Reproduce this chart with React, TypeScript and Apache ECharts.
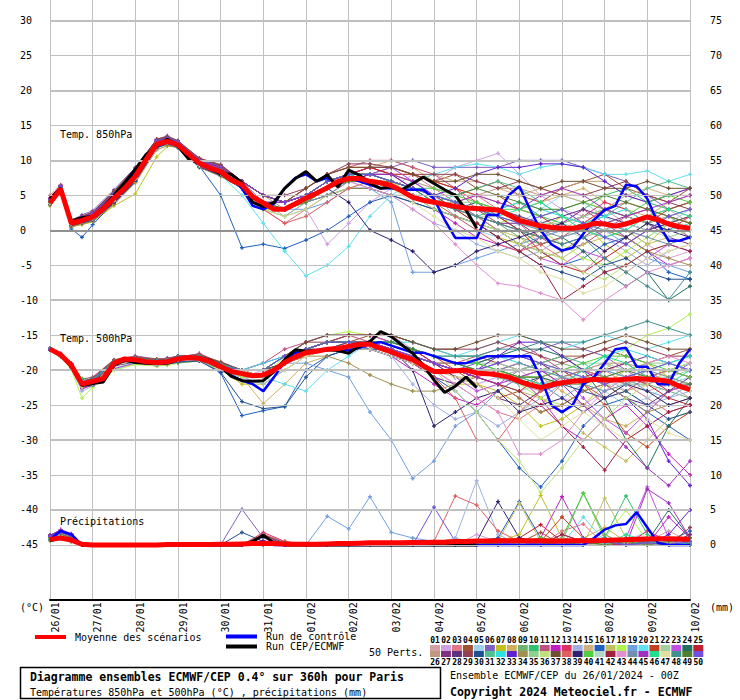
import React, { useEffect, useRef } from 'react';
import * as echarts from 'echarts';

const MONO = '"DejaVu Sans Mono", "Liberation Mono", monospace';

// time axis (hours since 26/01 00Z)
const memberHours = [0, 6, 12, 18, 24, 36, 48, 60, 66, 72, 84, 96, 108, 120, 132, 144, 156, 168, 180, 192, 204, 216, 228, 240, 252, 264, 276, 288, 300, 312, 324, 336, 348, 360];
const runHours = Array.from({ length: 61 }, (_, i) => i * 6);

const dateLabels = ['26/01', '27/01', '28/01', '29/01', '30/01', '31/01', '01/02', '02/02', '03/02', '04/02', '05/02', '06/02', '07/02', '08/02', '09/02', '10/02'];
const leftTicks = [-45, -40, -35, -30, -25, -20, -15, -10, -5, 0, 5, 10, 15, 20, 25, 30];
const rightTicks = [0, 5, 10, 15, 20, 25, 30, 35, 40, 45, 50, 55, 60, 65, 70, 75];
const thinGrid = [25, 15, 5, -5, -15, -25, -35, -45];
const thickGrid = [30, 20, 10, -10, -20, -30, -40];

const memberColors = [
  '#d4a0a8', '#d0a0e0', '#e07888', '#a05030', '#a0d0f0', '#8060c0', '#c0c020', '#d0b060', '#70b070', '#30c070',
  '#c05080', '#c020c0', '#e03060', '#a0b0e0', '#d0b080', '#2060c0', '#c0c060', '#b0f050', '#70a0e0', '#60e0f0',
  '#c04020', '#a0d0a0', '#c050e0', '#207060', '#c02030', '#c09880', '#803080', '#603080', '#904050', '#205090',
  '#50c090', '#30e0e0', '#6020d0', '#a09050', '#90d090', '#c0e080', '#705030', '#e06060', '#302070', '#50d040',
  '#b0d8c8', '#a02040', '#e090d0', '#7090b0', '#a030c0', '#20e090', '#e0e0a0', '#409090', '#508030', '#7050e0',
];

// ---- Temp 850 hPa (°C) ----
const t850Mean = [3.9, 5.9, 1.0, 1.4, 1.9, 3.1, 4.6, 6.0, 7.7, 10.1, 12.3, 12.7, 12.2, 10.9, 9.6, 8.9, 8.4, 7.2, 6.5, 4.8, 3.9, 3.0, 3.0, 3.8, 4.6, 5.3, 6.1, 7.0, 7.4, 7.4, 7.0, 6.8, 6.4, 5.6, 4.7, 4.3, 4.0, 3.7, 3.4, 3.2, 3.1, 3.0, 2.9, 2.2, 1.4, 1.0, 0.6, 0.4, 0.3, 0.3, 0.5, 1.0, 0.9, 0.6, 0.9, 1.4, 1.9, 1.5, 0.9, 0.5, 0.3];
const t850Control = [4.5, 6.0, 1.0, 1.5, 2.0, 3.2, 4.8, 6.6, 8.5, 10.6, 12.0, 12.8, 12.0, 10.3, 9.5, 8.8, 8.1, 7.5, 6.0, 3.5, 3.0, 3.8, 6.0, 7.5, 8.0, 7.0, 7.5, 6.5, 7.5, 7.0, 6.5, 6.0, 6.0, 5.8, 5.8, 5.8, 4.5, 1.5, -1.1, -1.1, -1.1, 2.2, 2.2, 5.0, 6.3, 3.0, 0.0, -2.0, -2.9, -2.5, -0.5, 1.5, 2.9, 3.5, 6.5, 6.3, 4.5, 1.0, -1.5, -1.5, -1.0];
const t850Main = [4.5, 6.0, 1.3, 1.8, 2.0, 3.3, 5.0, 6.8, 8.7, 10.8, 12.0, 13.0, 12.0, 10.2, 9.6, 8.8, 8.1, 8.0, 6.8, 4.0, 3.4, 4.0, 6.0, 7.4, 8.4, 7.0, 7.9, 6.2, 8.6, 7.9, 6.7, 6.0, 6.2, 5.8, 6.7, 7.6, 6.7, 5.8, 5.0, 2.9, 0.3];
const t850Members: number[][] = [
  [4.5, 6.2, 1.2, 1.5, 2.2, 5, 8.2, 12.5, 13, 12.3, 9.8, 8.5, 6, 4, 3, 5, 7, 8, 8, 7, 6, 5, 3, 2, 1, 0, -1, 0, 2, 3, 1, 2, 3, 1],
  [4, 6, 0.8, 1.8, 2.5, 5.2, 8.5, 12.8, 13.2, 12.5, 10, 9, 7, 4, 2, 3, -2, 1, 4, 6, 8, 7, 9, 10, 11, 8, 5, 3, 2, 1, 0, -2, -4, -3],
  [5, 6.5, 1.5, 1.2, 2, 4.5, 7.5, 12, 12.8, 12, 9.5, 8, 6, 3, 1, 3, 5, 7, 8, 9, 8, 6, 4, 5, 3, 1, -2, -4, -6, -3, -1, 1, 2, 1],
  [3.8, 5.8, 0.5, 1, 1.5, 4, 7.2, 12, 12.5, 12.2, 9.2, 8.2, 6, 4, 4, 5, 7, 8, 9, 9, 8, 7, 8, 6, 7, 5, 4, 6, 7, 8, 6, 5, 4, 6],
  [4.2, 6, 1, 1.3, 1.8, 4.3, 7.8, 12.2, 12.8, 12.4, 9.6, 8.6, 7, 5, 3, 4, 6, 8, 9, 9, 7, 5, 2, 0, -1, 1, 3, 5, 4, 2, 0, -1, 1, 3],
  [4.5, 6.3, 1.4, 2.2, 2.8, 5.8, 9, 13, 13.5, 12.8, 10.2, 9.2, 7, 5, 4, 5, 6, 7, 8, 9, 10, 9, 9, 9, 9, 10, 10, 10, 9, 8, 7, 5, 3, 4],
  [3.5, 5.6, 0.5, 0.8, 1.2, 3.5, 5.2, 10.5, 12, 12, 9.4, 8, 6, 3, 2, 4, 6, 7, 7, 6, 5, 3, 2, 1, -1, -2, 0, 2, 1, -2, -4, -2, 1, 2],
  [4.3, 6.1, 1.1, 1.5, 2, 4.8, 8, 12.4, 13, 12.5, 9.9, 8.8, 7, 5, 3, 4, 6, 8, 9, 10, 9, 7, 6, 5, 4, 3, 4, 5, 6, 4, 3, 2, 4, 5],
  [3.9, 5.9, 0.9, 1.2, 1.6, 4.2, 7.4, 12, 12.6, 12, 9.3, 8.1, 6, 4, 3, 4, 6, 7, 7, 6, 5, 4, 4, 3, 1, -1, -2, -1, 1, 0, -1, 1, 2, 0],
  [4.1, 6, 1.2, 1.6, 2.3, 5, 8.2, 12.5, 12.9, 12.3, 9.7, 8.5, 6, 4, 3, 5, 7, 8, 7, 6, 5, 5, 4, 2, 3, 4, 2, 1, 3, 5, 6, 4, 3, 4],
  [4.4, 6.2, 1.3, 1.7, 2.4, 5.3, 8.6, 12.7, 13.2, 12.6, 10.1, 9.1, 7, 5, 4, 6, 8, 9, 10, 10, 9, 8, 6, 3, 1, 0, -1, -3, -2, 0, 2, 3, 1, -1],
  [3.7, 5.7, 0.6, 1, 1.4, 3.9, 7, 11.8, 12.4, 12, 9.2, 7.8, 6, 4, 3, 5, 7, 8, 8, 7, 5, 3, 1, -1, -2, -3, -1, 1, 3, 1, -1, -3, -5, -4],
  [4.6, 6.4, 1.5, 2, 2.6, 5.5, 8.8, 13, 13.4, 12.7, 10.3, 9.3, 7, 5, 4, 5, 6, 8, 9, 8, 8, 7, 6, 4, 3, 2, 0, 1, 2, 4, 3, 1, 0, 2],
  [4, 5.9, 0.8, 1.2, 1.7, 4.4, 7.5, 12.1, 12.7, 12.1, 9.4, 8.2, 6, 3, 2, 4, 6, 7, 6, 5, 3, 1, 0, -2, -3, -4, -3, -1, 0, -1, -3, -5, -3, -2],
  [4.3, 6.1, 1.1, 1.6, 2.1, 4.9, 8.1, 12.4, 12.9, 12.4, 9.9, 8.9, 7, 5, 4, 5, 7, 8, 8, 8, 7, 8, 7, 7, 6, 5, 6, 5, 4, 3, 5, 6, 5, 6],
  [4, 6, 0.2, -1, 0.8, 4, 7, 12, 12.5, 12, 9.2, 5, -2.5, -2, -2.6, -1.4, 0, 2, 4, 5, 4, 3, 2, 1, 0, -2, -3, -5, -4, -2, -1, -3, -6, -7],
  [3.9, 5.8, 0.9, 1.3, 1.8, 4.4, 7.6, 12.2, 12.7, 12.1, 9.5, 8.3, 6, 4, 3, 4, 6, 7, 7, 7, 6, 4, 3, 1, 0, -1, -3, -4, -2, -1, 0, -2, -1, 0],
  [4.2, 6, 1, 1.4, 1.9, 4.7, 7.8, 12.3, 12.8, 12.3, 9.6, 8.4, 6, 3, 3, 5, 7, 8, 8, 7, 6, 4, 3, 2, 1, 2, 0, -2, -4, -5, -3, -1, 1, 2],
  [4.4, 6.2, 1.3, 1.8, 2.3, 5.1, 8.3, 12.6, 13.1, 12.5, 10, 8.7, 7, 4, 3, 3, 4, 6, 6, 4, -6, -6, -5, -4, -3, -2, -1, 0, 1, 0, -2, -4, -5, -6],
  [3.8, 5.7, 0.7, 1.1, 1.5, 4.1, 7.3, 11.9, 12.4, 11.9, 9.1, 7.9, 5, 1, -3, -6.5, -5, -2.3, 2, 5, 7, 8, 9, 9.5, 9, 8, 9, 9.5, 9, 8, 8, 8.5, 7, 8],
  [4.5, 6.3, 1.4, 1.9, 2.5, 5.4, 8.7, 12.9, 13.3, 12.6, 10.2, 9.2, 7, 5, 4, 6, 8, 9, 9, 8, 8, 7, 6, 5, 5, 3, 2, 0, 1, 3, 2, 1, 3, 4],
  [4.1, 6, 1, 1.4, 1.9, 4.6, 7.7, 12.3, 12.7, 12.2, 9.6, 8.4, 6, 4, 3, 5, 7, 8, 8, 7, 5, 4, 3, 3, 3, 2, 1, 1, 0, 0, 1, 2, 1, 0],
  [4.2, 6.1, 1.1, 1.5, 2, 4.8, 7.9, 12.4, 12.9, 12.3, 9.8, 8.6, 6, 4, 3, 4, 6, 8, 9, 9, 7, 5, 4, 2, 0, -2, -4, -5, -3, -4, -6, -4, -2, -3],
  [3.8, 5.8, 0.8, 1.2, 1.7, 4.3, 7.4, 12, 12.5, 12, 9.3, 8.1, 6, 4, 3, 4, 6, 7, 8, 7, 6, 4, 3, 4, 2, 0, -2, -1, -3, -6, -8, -6, -10, -8],
  [4.4, 6.2, 1.2, 1.7, 2.2, 5, 8.2, 12.6, 13, 12.4, 9.9, 8.8, 7, 5, 4, 5, 7, 8, 9, 8, 6, 5, 4, 3, 2, 0, -3, -5, -6, -4, -2, 0, 1, 0],
  [4, 5.9, 0.9, 1.3, 1.8, 4.5, 7.6, 12.2, 12.6, 12.1, 9.5, 8.3, 6, 4, 3, 5, 7, 8, 8, 8, 7, 6, 5, 5, 6, 6, 5, 6, 7, 7, 5, 4, 5, 5],
  [3.9, 5.8, 0.8, 1.3, 1.7, 4.2, 7.3, 12, 12.5, 12, 9.3, 8, 6, 4, 3, 4, 6, 7, 7, 6, 5, 4, 3, 2, 1, 1, -1, -2, -1, 1, 2, 1, -1, -2],
  [4.3, 6.1, 1.2, 1.6, 2.1, 4.9, 8, 12.4, 12.9, 12.4, 9.8, 8.6, 6, 4, 4, 5, 7, 8, 8, 7, 6, 5, 4, 3, 3, 2, 1, 2, 3, 2, 1, 0, 1, 2],
  [4.6, 6.4, 1.5, 2, 2.6, 5.6, 8.9, 13, 13.4, 12.8, 10.3, 9.4, 7, 5, 5, 6, 8, 9.5, 9.5, 9, 8, 8, 8, 7, 6, 7, 6, 5, 5, 6, 7, 5, 4, 3],
  [3.7, 5.7, 0.6, 1, 1.3, 3.8, 7, 11.8, 12.3, 11.8, 9, 7.8, 6, 4, 3, 4, 5, 6, 6, 5, 4, 3, 2, 1, -1, -3, -5, -6, -7, -5, -4, -6, -7, -7],
  [4.1, 6, 1, 1.5, 2, 4.6, 7.7, 12.3, 12.8, 12.2, 9.6, 8.4, 6, 4, 3, 5, 7, 8, 7, 6, 5, 4, 5, 6, 7, 6, 4, 2, 1, 2, 4, 6, 7, 6],
  [4, 5.9, 0.9, 1.3, 1.8, 4.4, 7.5, 12.1, 12.6, 12.1, 9.4, 8.2, 6, 4, 3, 4, 6, 7, 7, 6, 6, 5, 4, 3, 3, 4, 3, 2, 1, 2, 3, 1, 0, 1],
  [4.5, 6.3, 1.3, 1.8, 2.4, 5.3, 8.5, 12.8, 13.2, 12.6, 10.1, 9, 7, 5, 4, 5, 7, 8, 8, 8, 6, 5, 6, 8, 9, 9, 9.5, 9.5, 9, 7, 5, 4, 5, 6],
  [3.6, 5.6, 0.5, 0.9, 1.3, 3.7, 6.8, 11.5, 12.1, 11.8, 9, 7.7, 6, 4, 3, 4, 5, 6, 6, 5, 5, 4, 3, 2, 0, -2, -4, -3, -1, 0, -1, -3, -4, -5],
  [4.2, 6, 1.1, 1.5, 2, 4.7, 7.8, 12.3, 12.8, 12.3, 9.7, 8.5, 6, 4, 3, 5, 7, 8, 8, 7, 6, 5, 4, 4, 3, 1, 0, 1, 2, 3, 2, 1, 2, 3],
  [3.9, 5.8, 0.8, 1.2, 1.6, 4.2, 7.3, 12, 12.5, 12, 9.3, 8, 6, 3, 2, 3, 5, 6, 7, 7, 5, 3, 2, 1, 0, -2, -3, -4, -6, -7, -5, -3, -2, -1],
  [4.5, 6.3, 1.4, 1.9, 2.5, 5.5, 8.7, 12.9, 13.3, 12.7, 10.2, 9.2, 7, 5, 4, 6, 8, 9, 9, 9, 8, 7, 7, 8, 8, 7, 6, 7, 7, 6, 6, 7, 6, 6],
  [4.1, 6, 1, 1.4, 1.9, 4.8, 8.1, 12.3, 12.8, 12.2, 9.7, 8.3, 6, 3, 1, 2, 4, 6, 7, 6, 5, 4, 2, 0, -2, -3, -2, -1, 1, 3, 4, 3, 2, 1],
  [3.8, 5.7, 0.7, 1.1, 1.5, 4, 7.2, 11.9, 12.4, 11.9, 9.1, 7.9, 6, 4, 3, 4, 6, 4, 0, -1.4, -3, -6, -5, -3, -2, -1, 0, 1, -1, -3, -1, 1, 0, -1],
  [4.3, 6.1, 1.2, 1.6, 2.2, 5, 8.1, 12.5, 12.9, 12.4, 9.8, 8.6, 6, 4, 3, 5, 7, 8, 8, 7, 6, 6, 5, 4, 3, 3, 2, 3, 4, 3, 2, 4, 5, 4],
  [4, 5.9, 0.9, 1.4, 1.9, 4.5, 7.6, 12.2, 12.7, 12.1, 9.5, 8.3, 6, 4, 3, 4, 6, 7, 7, 6, 5, 4, 3, 2, 2, 1, 1, 0, -1, 0, 1, 0, -1, 0],
  [4.4, 6.2, 1.3, 1.8, 2.3, 5.2, 8.4, 12.7, 13.1, 12.5, 10, 9, 7, 5, 4, 5, 7, 8, 8, 7, 6, 5, 3, 1, -1, -3, -5, -10, -8, -6, -5, -3, -2, -3],
  [4.1, 6, 1, 1.4, 1.8, 4.5, 7.6, 12.2, 12.7, 12.1, 9.5, 8.2, 6, 4, 3, 4, 6, 7, 6, 5, 3, 1, -2, -5, -7.6, -8, -9, -10, -12.8, -10, -8, -6, -5, -4],
  [3.8, 5.8, 0.8, 1.2, 1.6, 4.2, 7.3, 12, 12.4, 11.9, 9.2, 8, 6, 4, 3, 4, 5, 7, 7, 6, 5, 4, 3, 3, 2, 1, 0, -1, 0, 1, 0, -1, -2, -1],
  [4.4, 6.2, 1.3, 1.7, 2.3, 5.1, 8.3, 12.6, 13, 12.5, 10, 8.8, 6, 4, 4, 5, 6, 7, 8, 8, 7, 5, 4, 5, 4, 3, 5, 6, 5, 3, 2, 3, 4, 5],
  [4.2, 6, 1.1, 1.5, 2, 4.7, 7.8, 12.3, 12.8, 12.2, 9.6, 8.4, 6, 4, 3, 4, 6, 8, 8, 7, 6, 5, 4, 3, 2, 3, 4, 2, 0, -1, 0, 2, 3, 2],
  [3.9, 5.8, 0.9, 1.3, 1.7, 4.3, 7.4, 12.1, 12.6, 12, 9.3, 8.1, 6, 4, 3, 4, 6, 7, 7, 6, 4, 2, 0, -1, -3, -4, -6, -7, -9, -8, -6, -4, -3, -2],
  [4.3, 6.1, 1.2, 1.6, 2.1, 5, 8.1, 12.5, 12.9, 12.4, 9.8, 8.6, 6, 4, 3, 5, 7, 8, 8, 7, 6, 4, 3, 2, 1, 0, -1, -2, -1, -4, -6, -8, -9.9, -6],
  [4, 5.9, 1, 1.4, 1.8, 4.5, 7.6, 12.2, 12.7, 12.1, 9.5, 8.3, 6, 4, 3, 4, 6, 7, 7, 7, 6, 5, 5, 6, 5, 4, 3, 3, 4, 5, 4, 3, 2, 1],
  [4.5, 6.3, 1.4, 1.9, 2.4, 5.3, 8.5, 12.8, 13.2, 12.7, 10.1, 9.1, 7, 5, 4, 5, 7, 8, 8, 7, 6, 5, 4, 3, 2, 1, 2, 3, 1, -1, -2, 0, 2, 3],
];

// ---- Temp 500 hPa (°C) ----
const t500Mean = [-17.0, -17.8, -19.3, -22.0, -21.6, -21.2, -19.0, -18.4, -18.5, -18.8, -18.9, -18.8, -18.4, -18.2, -18.3, -18.8, -19.5, -20.2, -20.5, -20.8, -20.7, -20.0, -18.9, -18.1, -17.5, -17.3, -17.0, -16.9, -16.6, -16.3, -16.3, -16.9, -17.4, -18.0, -18.5, -19.4, -20.2, -20.2, -20.1, -20.0, -20.4, -20.5, -20.7, -21.0, -21.6, -22.1, -22.5, -22.1, -21.8, -21.6, -21.5, -21.3, -21.4, -21.4, -21.3, -21.2, -21.3, -21.4, -21.6, -22.3, -22.8];
const t500Control = [-17.0, -17.8, -19.4, -22.0, -21.8, -21.4, -19.2, -18.5, -18.8, -19.0, -19.0, -18.9, -18.5, -18.2, -18.3, -18.7, -19.5, -20.8, -21.5, -22.0, -23.0, -21.0, -18.8, -17.5, -17.4, -17.2, -17.0, -17.0, -17.2, -16.8, -16.2, -16.0, -16.5, -17.0, -17.5, -17.5, -18.0, -18.5, -19.0, -19.0, -18.5, -18.0, -18.0, -18.0, -18.0, -18.0, -21.0, -25.0, -26.0, -25.0, -22.0, -21.0, -19.0, -17.0, -16.8, -19.5, -19.5, -22.0, -22.0, -19.0, -17.0];
const t500Main = [-17.0, -17.8, -19.5, -22.2, -21.9, -21.7, -19.3, -18.6, -18.9, -19.0, -19.0, -19.0, -18.5, -18.2, -18.2, -18.6, -19.5, -20.9, -21.5, -21.6, -21.5, -20.2, -18.5, -17.1, -17.3, -17.2, -17.1, -17.2, -17.6, -16.6, -15.9, -14.5, -15.2, -16.4, -17.6, -19.3, -21.4, -23.2, -22.3, -21.0, -22.5];
const t500Members: number[][] = [
  [-17, -17.9, -19.2, -22, -21.3, -18.8, -18.2, -18.8, -18.7, -18.2, -18.1, -19.2, -20, -21, -19, -18, -17, -16, -16, -17, -18, -19, -20, -20, -21, -22, -23, -22, -20, -19, -21, -23, -22, -24],
  [-17.1, -18, -19.5, -22.8, -22, -19.3, -18.4, -19, -19, -18.5, -18.4, -19.8, -21, -20, -18, -17, -16, -15, -15, -15, -17, -19, -21, -22, -21, -20, -22, -24, -25, -23, -21, -20, -22, -21],
  [-16.9, -17.7, -19.6, -22.3, -21.9, -19.2, -18.7, -19.1, -18.9, -18.4, -18.2, -19.4, -20, -20, -19, -17, -17, -16, -16, -17, -18, -20, -22, -24, -26, -27, -25, -22, -21, -20, -22, -24, -26, -25],
  [-17, -17.8, -19, -21.3, -21, -18.5, -18, -18.4, -18.3, -18, -17.8, -18.8, -20, -20, -18, -17, -16, -16, -15, -15, -16, -17, -18, -18, -19, -20, -19, -18, -18, -17, -18, -19, -18, -17],
  [-17.2, -18.1, -19.4, -22.4, -22.2, -19.7, -18.9, -19.3, -19.2, -18.8, -18.6, -20, -21, -21, -19, -18, -17, -17, -17, -18, -19, -20, -20, -21, -22, -23, -22, -21, -22, -23, -25, -24, -22, -21],
  [-16.9, -17.7, -19.1, -21.7, -21.2, -18.7, -18.1, -18.6, -18.4, -18, -17.9, -19, -20, -20, -18, -17, -16, -16, -16, -16, -17, -19, -20, -19, -18, -18, -17, -16, -17, -18, -20, -22, -21, -19],
  [-17, -17.9, -19.4, -22.5, -22.3, -19.4, -18.8, -19.2, -19.1, -18.7, -18.5, -19.9, -22, -22, -20, -18, -17, -17, -17, -18, -19, -21, -22, -22, -23, -25, -28, -27, -25, -22, -20, -19, -21, -22],
  [-17, -17.8, -19.3, -22, -21.6, -19, -18.5, -18.9, -18.8, -18.4, -18.3, -19.5, -21, -24.8, -22, -19, -18, -17, -16, -16, -17, -18, -19, -19, -20, -21, -21, -23, -25, -27, -28, -26, -23, -22],
  [-17, -17.8, -19.2, -21.8, -21.4, -18.9, -18.4, -18.8, -18.7, -18.3, -18.2, -19.3, -20, -21, -19, -18, -17, -16, -16, -16, -17, -18, -19, -20, -20, -21, -20, -19, -20, -21, -22, -22, -23, -24],
  [-17, -17.8, -19.2, -21.2, -21.5, -18.9, -18.3, -18.8, -18.5, -18.2, -18, -19.2, -20, -20, -18, -17, -16, -16, -17, -17, -18, -19, -19, -20, -21, -22, -22, -21, -20, -20, -21, -20, -19, -18],
  [-17, -17.8, -19.3, -22.1, -21.7, -19, -18.5, -18.9, -18.9, -18.3, -17.6, -19, -20, -19, -17, -16, -15, -15, -16, -17, -18, -19, -19, -18, -17, -16, -18, -20, -22, -24, -23, -21, -20, -21],
  [-17.1, -18, -19.6, -22.6, -22.2, -19.8, -19, -19.4, -19.2, -18.9, -18.7, -20.1, -21, -21, -19, -18, -17, -17, -17, -18, -20, -22, -24, -25, -23, -21, -24, -28, -30, -27, -25, -28, -32, -35],
  [-17, -17.7, -19.1, -21.9, -21.4, -18.8, -18.3, -18.7, -18.5, -18.1, -18, -19.1, -20, -20, -18, -17, -16, -16, -16, -17, -18, -19, -20, -21, -20, -19, -20, -22, -21, -20, -19, -21, -23, -22],
  [-17.1, -18.1, -19.8, -23, -22.3, -19.9, -19.1, -19.3, -19.3, -19, -18.6, -20.2, -21, -22, -20, -18, -17, -17, -17, -18, -22, -25, -27, -26, -28, -26, -24, -22, -20, -21, -23, -25, -24, -23],
  [-17, -17.8, -19.3, -22, -21.6, -19.1, -18.5, -18.9, -18.8, -18.4, -18.3, -19.4, -20, -20, -19, -17, -16, -16, -16, -16, -17, -18, -19, -20, -21, -21, -20, -20, -21, -22, -23, -22, -20, -19],
  [-17, -17.9, -19.4, -22.3, -22, -19.2, -18.7, -19.1, -19, -18.8, -18.6, -20.4, -26.5, -25.8, -25.2, -20, -18, -17, -17, -18, -19, -21, -23, -26, -30, -34, -36.7, -33, -28, -25, -24, -26, -28, -30],
  [-17, -17.8, -19.3, -22.1, -21.6, -19, -18.5, -18.9, -18.8, -18.4, -18.3, -19.5, -20, -20, -18, -17, -16, -16, -16, -17, -18, -20, -21, -21, -22, -23, -24, -26, -29, -31, -33, -30, -27, -26],
  [-17.1, -18.1, -19.9, -24, -22.5, -20, -19.2, -19.4, -19.3, -19, -18.7, -20, -21, -21, -18, -16, -15, -14.5, -15, -16, -17, -18, -19, -20, -20, -22, -24, -25, -23, -20, -17, -15, -14, -12],
  [-17, -17.8, -19.3, -22, -21.6, -19, -18.4, -18.9, -18.8, -18.4, -18.2, -19.4, -20, -20, -19, -19, -20, -21, -26, -30, -35.5, -33, -28, -26, -23, -21, -22, -24, -22, -20, -21, -23, -24, -22],
  [-17, -17.8, -19.3, -22, -21.6, -19, -18.5, -18.9, -18.8, -18.4, -18.3, -19.5, -20, -21, -22, -23, -20, -18, -16, -16, -17, -18, -18, -17, -16, -15, -16, -17, -16, -15, -16, -17, -16, -15],
  [-16.9, -17.7, -19.2, -21.9, -21.5, -18.9, -18.4, -18.8, -18.7, -18.3, -18.2, -19.3, -20, -20, -18, -17, -16, -15, -15, -16, -17, -18, -20, -22, -24, -23, -21, -20, -22, -25, -29, -31, -28, -26],
  [-17, -17.8, -19.3, -22, -21.7, -19.1, -18.5, -18.9, -18.8, -18.4, -18.3, -19.5, -20, -20, -19, -17, -16, -16, -16, -16, -17, -18, -18, -19, -19, -20, -20, -20, -19, -19, -20, -21, -21, -20],
  [-16.9, -17.6, -19, -21.6, -21.1, -18.6, -18, -18.5, -18.3, -18, -17.8, -18.9, -20, -19, -18, -16, -15, -15, -15, -16, -17, -19, -21, -23, -22, -20, -19, -21, -24, -27, -29, -26, -23, -22],
  [-17, -17.8, -19.4, -22.2, -21.7, -19.1, -18.6, -19, -18.9, -18.5, -18.4, -19.6, -20, -20, -18, -17, -16, -16, -16, -16, -17, -18, -19, -19, -18, -17, -17, -18, -20, -24, -30, -34, -28, -24],
  [-17.1, -17.9, -19.5, -22.4, -21.9, -19.3, -18.7, -19.1, -19, -18.6, -18.5, -19.8, -20, -20, -18, -17, -16, -16, -16, -16, -17, -19, -20, -21, -22, -24, -26, -25, -23, -22, -21, -22, -24, -25],
  [-17, -17.7, -19.2, -21.8, -21.4, -18.8, -18.3, -18.7, -18.6, -18.2, -18.1, -19.3, -20, -20, -19, -17, -16, -16, -16, -17, -18, -19, -19, -20, -21, -21, -22, -21, -20, -19, -19, -20, -22, -23],
  [-17, -17.8, -19.3, -22.1, -21.6, -19, -18.5, -18.9, -18.8, -18.4, -18.3, -19.5, -20, -20, -19, -17, -17, -16, -16, -16, -17, -18, -19, -20, -19, -18, -19, -21, -22, -20, -19, -18, -19, -20],
  [-17.1, -17.9, -19.4, -22.2, -21.8, -19.2, -18.6, -19, -18.9, -18.6, -18.5, -19.7, -20, -20, -18, -17, -16, -16, -16, -17, -18, -19, -21, -22, -24, -25, -23, -22, -21, -22, -24, -25, -23, -21],
  [-16.9, -17.7, -19.1, -21.8, -21.3, -18.7, -18.2, -18.6, -18.5, -18.1, -17.9, -19, -20, -20, -18, -16, -16, -15, -15, -15, -16, -17, -17, -17, -16, -17, -18, -19, -18, -17, -16, -17, -18, -18],
  [-17, -17.9, -19.5, -22.4, -22.1, -19.4, -18.8, -19.2, -19.1, -18.9, -18.7, -20.3, -24.5, -25.5, -25.2, -21, -18, -17, -17, -17, -18, -19, -20, -20, -21, -22, -21, -22, -23, -24, -23, -25, -27, -26],
  [-17, -17.8, -19.2, -21.9, -21.5, -18.9, -18.4, -18.8, -18.7, -18.3, -18.2, -19.4, -20, -20, -18, -17, -16, -16, -16, -16, -17, -18, -19, -19, -20, -20, -19, -18, -19, -21, -22, -21, -20, -19],
  [-16.9, -17.7, -19.2, -21.9, -21.5, -18.9, -18.4, -18.8, -18.7, -18.3, -18.1, -19.2, -20, -19, -18, -17, -16, -16, -16, -16, -16, -17, -18, -18, -18, -19, -20, -21, -20, -18, -17, -18, -19, -18],
  [-17, -17.8, -19.3, -22.1, -21.7, -19.1, -18.5, -18.9, -18.8, -18.4, -18.3, -19.5, -20, -20, -19, -17, -16, -16, -17, -18, -19, -21, -22, -20, -18, -16, -16, -18, -20, -22, -24, -27, -33, -36.5],
  [-17.1, -18, -19.5, -22.3, -21.9, -19.3, -18.7, -19.1, -19, -18.6, -18.5, -19.8, -20, -21, -19, -18, -18, -19, -20.7, -22, -23, -23, -22, -21, -22, -24, -26, -25, -23, -22, -24, -26, -25, -24],
  [-17, -17.8, -19.3, -22, -21.6, -19, -18.5, -18.9, -18.8, -18.4, -18.3, -19.5, -20, -20, -18, -17, -16, -16, -16, -16, -17, -18, -19, -20, -21, -20, -19, -20, -21, -21, -20, -19, -19, -20],
  [-17, -17.9, -19.4, -22.3, -21.9, -19.2, -18.6, -19, -18.9, -18.5, -18.4, -19.6, -20, -20, -18, -17, -16, -16, -16, -17, -18, -20, -23, -26, -30, -33, -37.5, -34, -30, -27, -24, -22, -20, -19],
  [-16.9, -17.7, -19.1, -21.7, -21.2, -18.6, -18.1, -18.5, -18.4, -18, -17.8, -18.9, -20, -20, -18, -16, -15, -15, -15, -15, -16, -17, -17, -16, -15, -15, -16, -17, -17, -16, -15, -16, -17, -17],
  [-17, -17.8, -19.3, -22, -21.6, -19, -18.5, -18.9, -18.8, -18.4, -18.3, -19.5, -20, -20, -18, -17, -16, -16, -16, -17, -19, -21, -24, -30, -30, -26, -23, -21, -20, -21, -22, -21, -20, -21],
  [-17.1, -17.9, -19.4, -22.2, -21.8, -19.2, -18.6, -19, -18.9, -18.6, -18.5, -19.7, -20, -21, -19, -17, -16, -16, -16, -17, -20, -28, -26, -24, -23, -26, -25, -24, -26, -24, -22, -23, -25, -24],
  [-17, -17.7, -19.2, -21.8, -21.4, -18.8, -18.3, -18.7, -18.6, -18.2, -18.1, -19.3, -20, -20, -18, -17, -16, -16, -16, -16, -17, -18, -19, -19, -20, -21, -21, -20, -19, -18, -18, -19, -20, -21],
  [-17, -17.8, -19.3, -22.1, -21.6, -19, -18.5, -18.9, -18.8, -18.4, -18.3, -19.5, -20, -20, -18, -17, -16, -16, -16, -17, -18, -19, -20, -20, -21, -22, -22, -21, -21, -22, -22, -21, -22, -23],
  [-17, -17.9, -19.4, -22.2, -21.8, -19.2, -18.6, -19, -18.9, -18.5, -18.4, -19.6, -20, -20, -18, -17, -16, -16, -16, -17, -18, -19, -20, -21, -22, -23, -25, -28, -31, -34.3, -30, -28, -26, -25],
  [-16.9, -17.7, -19.2, -21.9, -21.5, -18.9, -18.4, -18.8, -18.7, -18.3, -18.2, -19.4, -20, -20, -18, -17, -16, -16, -16, -17, -18, -20, -22, -24, -26, -32, -32, -30, -26, -23, -21, -19, -18, -19],
  [-17, -17.8, -19.3, -22, -21.6, -19, -18.5, -18.9, -18.8, -18.4, -18.3, -19.5, -20, -20, -18, -17, -16, -16, -16, -16, -17, -18, -19, -20, -20, -19, -20, -21, -22, -23, -22, -20, -21, -22],
  [-17.1, -18, -19.5, -22.3, -21.9, -19.3, -18.7, -19.1, -19, -18.6, -18.5, -19.8, -20, -20, -18, -17, -16, -16, -16, -17, -18, -19, -20, -21, -22, -21, -20, -22, -25, -28, -31, -34, -36.5, -33],
  [-17, -17.7, -19.2, -21.8, -21.4, -18.8, -18.3, -18.7, -18.6, -18.2, -18.1, -19.3, -20, -20, -18, -17, -16, -16, -16, -16, -17, -18, -19, -20, -20, -21, -22, -22, -20, -18, -19, -21, -22, -20],
  [-17, -17.9, -19.4, -22.4, -21.9, -19.3, -18.7, -19.1, -19, -18.6, -18.5, -19.7, -20, -21, -20, -18, -17, -17, -17, -18, -19, -20, -21, -22, -24, -27, -30, -28, -26, -28, -30, -27, -29, -30],
  [-16.9, -17.7, -19.1, -21.8, -21.3, -18.7, -18.2, -18.6, -18.5, -18.1, -17.9, -19.1, -20, -20, -18, -17, -16, -16, -16, -16, -17, -18, -18, -18, -17, -17, -16, -16, -16, -15, -14, -13, -14, -15],
  [-17, -17.8, -19.3, -22, -21.6, -19, -18.5, -18.9, -18.8, -18.4, -18.3, -19.5, -20, -20, -19, -17, -16, -16, -16, -16, -17, -18, -19, -20, -20, -21, -21, -22, -22, -21, -20, -21, -22, -22],
  [-17, -17.8, -19.2, -21.9, -21.5, -18.9, -18.4, -18.8, -18.7, -18.3, -18.2, -19.4, -20, -20, -18, -17, -16, -16, -16, -17, -18, -19, -20, -20, -19, -18, -19, -20, -21, -22, -21, -20, -19, -20],
];

// ---- Precipitations (mm) ----
const precipMean = [0.8, 1.0, 0.7, 0.1, 0, 0, 0, 0, 0, 0, 0, 0.05, 0.05, 0.05, 0.05, 0.05, 0.1, 0.1, 0.15, 0.2, 0.25, 0.2, 0.15, 0.1, 0.1, 0.1, 0.15, 0.2, 0.2, 0.25, 0.3, 0.3, 0.3, 0.3, 0.35, 0.35, 0.4, 0.4, 0.5, 0.5, 0.55, 0.55, 0.6, 0.6, 0.6, 0.6, 0.6, 0.55, 0.55, 0.6, 0.6, 0.6, 0.65, 0.7, 0.75, 0.8, 0.85, 0.9, 0.9, 0.85, 0.8];
const precipControl = [0.8, 2.0, 1.5, 0, 0, 0, 0, 0, 0, 0, 0, 0, 0, 0, 0, 0, 0, 0, 0, 0.3, 0.5, 0, 0, 0, 0, 0, 0, 0, 0, 0, 0, 0, 0, 0, 0, 0, 0, 0, 0, 0, 0, 0, 0, 0, 0, 0, 0, 0, 0, 0, 0, 1.0, 2.2, 2.8, 3.0, 4.7, 2.5, 0.3, 0, 0, 0];
const precipMain = [0.6, 1.0, 0.8, 0, 0, 0, 0, 0, 0, 0, 0, 0, 0, 0, 0, 0, 0, 0, 0, 0.5, 1.4, 0.3, 0, 0, 0, 0, 0, 0, 0, 0, 0, 0, 0, 0, 0, 0, 0, 0, 0, 0, 0];
const precipMembers: number[][] = [
  [1, 1.3, 0.8, 0, 0, 0, 0, 0, 0, 0, 0, 0, 0, 0.5, 0, 0, 0, 0, 0.3, 0, 0, 0.5, 0, 0, 0.3, 1, 0, 0.5, 0, 1.5, 0, 0.5, 2, 0.5],
  [0.8, 1.2, 0.6, 0, 0, 0, 0, 0, 0, 0, 0, 0, 0, 0.3, 0.5, 0, 0, 0, 0, 0, 0.5, 0, 0, 1.5, 0.5, 0, 0.3, 0, 1, 0.5, 0, 0, 0.5, 1],
  [1.2, 1.5, 1, 0, 0, 0, 0, 0, 0, 0, 0, 0, 0, 1.5, 0.3, 0, 0, 0, 0, 0.5, 0, 0, 0.3, 0, 1, 0.5, 0, 2, 3, 0, 1, 0.3, 0, 0.5],
  [0.6, 1, 0.5, 0, 0, 0, 0, 0, 0, 0, 0, 0, 0, 0, 0, 0, 0, 0, 0, 0, 0, 0.5, 0.8, 0, 0, 0.3, 1.8, 0, 0.5, 0, 1, 0.5, 0, 1.5],
  [0.9, 1.4, 0.7, 0, 0, 0, 0, 0, 0, 0, 0, 0, 0, 0.3, 0, 0, 0, 0, 0, 0, 0, 0, 1, 0.3, 0, 0, 0.5, 0, 0, 1, 0.5, 2, 0.3, 0],
  [1.1, 1.8, 1.2, 0, 0, 0, 0, 0, 0, 0, 0, 0, 5.1, 1, 0.3, 0, 0, 0, 0, 0, 0, 0, 0, 0.5, 0, 1, 0, 0.5, 1, 0, 0.5, 0, 1, 0.5],
  [0.7, 1.1, 0.6, 0, 0, 0, 0, 0, 0, 0, 0, 0, 0, 0, 0.5, 0, 0, 0, 0, 0, 0, 0.3, 0, 0, 0.5, 1.5, 7.1, 1, 0, 0, 0.5, 0, 0.3, 0],
  [1, 1.6, 0.9, 0, 0, 0, 0, 0, 0, 0, 0, 0, 0, 0.3, 0, 0, 0, 0, 0, 0, 0.5, 0.5, 0, 0, 0, 0.5, 0, 0, 1, 2.5, 0.5, 0, 0, 0.5],
  [0.8, 1.2, 0.7, 0, 0, 0, 0, 0, 0, 0, 0, 0, 0, 0, 0, 0, 0, 0, 0, 0, 0, 0, 0.3, 0.5, 0, 0, 0.5, 1, 7.4, 1.5, 0, 0.5, 1, 0],
  [1.3, 1.9, 1.3, 0, 0, 0, 0, 0, 0, 0, 0, 0, 0, 0.5, 0, 0, 0, 0, 0, 0, 0, 0, 0, 0, 0.5, 0, 1, 0, 0.5, 1, 7, 1.5, 0, 0.3],
  [0.9, 1.3, 0.9, 0, 0, 0, 0, 0, 0, 0, 0, 0, 0, 0.5, 0.3, 0, 0, 0, 0, 0, 0, 0, 0, 0.3, 1, 0.5, 0, 1.5, 0.5, 0, 0, 1, 0.5, 0],
  [1, 1.5, 1, 0, 0, 0, 0, 0, 0, 0, 0, 0, 0, 0, 0, 0, 0, 0, 0, 0.3, 0, 0, 0.5, 0, 0.3, 0, 1, 6.9, 1, 0, 0.3, 0, 4, 1],
  [1.4, 2, 1.5, 0, 0, 0, 0, 0, 0, 0, 0, 0, 0, 1.8, 0.5, 0, 0, 0, 0, 0, 0, 0.3, 0, 0, 0, 0.5, 0, 0.5, 0, 1, 0, 2, 0.5, 0.3],
  [0.7, 1, 0.5, 0, 0, 0, 0, 0, 0, 0, 0, 0, 0, 0, 0, 0, 0, 0, 0, 0, 0.3, 0, 1, 9.2, 1.5, 0, 0, 0.5, 0, 0, 0.5, 0, 0, 1],
  [0.8, 1.2, 0.7, 0, 0, 0, 0, 0, 0, 0, 0, 0, 0, 0, 0, 0, 0, 0, 0, 0, 0, 0, 0.5, 0.5, 0.3, 0, 0, 0, 1, 0.5, 0, 0.3, 0.5, 0],
  [1.2, 1.9, 1.4, 0, 0, 0, 0, 0, 0, 0, 0, 0, 0, 1.5, 0.3, 0, 0, 0, 0, 0, 0, 0, 0, 0.5, 1, 6.2, 1, 0, 0, 0.3, 0, 1, 0.5, 2],
  [0.9, 1.3, 0.8, 0, 0, 0, 0, 0, 0, 0, 0, 0, 0, 0, 0, 0, 0, 0, 0, 0, 0, 0, 0, 0, 0.5, 6, 0.5, 0, 0, 6.7, 1, 0, 0.5, 0],
  [0.6, 0.9, 0.4, 0, 0, 0, 0, 0, 0, 0, 0, 0, 0, 0, 0, 0, 0, 0, 0, 0, 0, 0.5, 0.3, 0, 0, 0.5, 0, 0, 0.5, 1, 5, 0.5, 0, 0.5],
  [1, 1.4, 0.8, 0, 0, 0, 0, 0, 0, 0, 0, 0, 0, 0, 0, 0, 4.1, 2.3, 6.9, 1.8, 1, 0.5, 0, 0, 0.3, 0, 0, 0.5, 0, 0, 0, 0.5, 0, 1],
  [0.8, 1.3, 0.8, 0, 0, 0, 0, 0, 0, 0, 0, 0, 0, 0.3, 0, 0, 0, 0, 0, 0, 0, 0, 0, 0.5, 0, 0.3, 0.5, 0, 4, 0.5, 0, 0, 1, 0.5],
  [1.1, 1.6, 1, 0, 0, 0, 0, 0, 0, 0, 0, 0, 0, 0.3, 0, 0, 0, 0, 0, 0, 0, 0, 0.5, 0, 0, 0, 0.5, 4, 1, 0, 0.5, 0.5, 0, 0],
  [0.7, 1.1, 0.6, 0, 0, 0, 0, 0, 0, 0, 0, 0, 0, 0, 0, 0, 0, 0, 0, 0, 0, 0, 0, 0.3, 0.5, 0, 0, 0.3, 0.5, 0, 0.3, 0, 0.5, 0.3],
  [1, 1.5, 0.9, 0, 0, 0, 0, 0, 0, 0, 0, 0, 0, 0, 0, 0, 0, 0, 0, 0, 0, 0, 0.3, 0, 0, 0.5, 0, 1, 0.5, 0, 1, 8.3, 1, 0],
  [0.9, 1.2, 0.7, 0, 0, 0, 0, 0, 0, 0, 0, 0, 0, 0.5, 0, 0, 0, 0, 0, 0, 0, 0.3, 0, 0, 0, 0, 0.5, 0, 1, 0.5, 0, 0.5, 5, 1],
  [1.2, 1.7, 1.1, 0, 0, 0, 0, 0, 0, 0, 0, 0, 0, 1.5, 0, 0, 0, 0, 0, 0, 0, 0, 0, 0, 0.5, 1, 2.9, 0.5, 0, 0, 0.5, 0, 0, 0.3],
  [0.8, 1.2, 0.6, 0, 0, 0, 0, 0, 0, 0, 0, 0, 0, 0, 0, 0, 0, 0, 0, 0, 0, 0.5, 0.5, 0.3, 0, 0, 0.3, 0, 0, 0.5, 0.3, 0, 0.5, 0],
  [1, 1.4, 0.9, 0, 0, 0, 0, 0, 0, 0, 0, 0, 0, 0.3, 0, 0, 0, 0, 0, 0, 0, 0, 0, 0, 0.5, 0, 0, 0.5, 0, 1, 0, 0.5, 0, 1.5],
  [0.7, 1, 0.6, 0, 0, 0, 0, 0, 0, 0, 0, 0, 0, 0, 0.3, 0, 0, 0, 0, 0, 0, 0, 0.5, 0, 0, 0.3, 0, 0, 0.5, 0, 0, 1, 0.5, 0],
  [1.1, 1.7, 1.2, 0, 0, 0, 0, 0, 0, 0, 0, 0, 0, 0.5, 0, 0, 0, 0, 0, 0, 0, 0, 0, 0.5, 0.3, 0, 0, 1, 0, 0, 0.5, 0, 0, 2.5],
  [1.3, 1.9, 1.3, 0, 0, 0, 0, 0, 0, 0, 0, 0, 1.8, 0.5, 0, 0, 0, 0, 0, 0, 0, 0, 0, 0, 0, 0.5, 0, 0, 0.5, 0, 1, 0.5, 0, 0],
  [0.8, 1.2, 0.7, 0, 0, 0, 0, 0, 0, 0, 0, 0, 0, 0, 0, 0, 0, 0, 0, 0, 0, 0.3, 0, 0.5, 0, 0, 1, 0.5, 0, 0.5, 0, 0, 1, 0.5],
  [0.9, 1.3, 0.8, 0, 0, 0, 0, 0, 0, 0, 0, 0, 0, 0, 0, 0, 0, 0, 0, 0, 0, 0, 0.3, 0, 0, 0.5, 0, 0.3, 0, 0, 0.5, 1, 0, 0],
  [1.2, 1.8, 1.2, 0, 0, 0, 0, 0, 0, 0, 0, 0, 0, 0.3, 0, 0, 0, 0, 0, 0, 0, 0, 0, 0.3, 0, 0, 0.5, 0, 0, 1, 0.5, 0, 1.5, 5],
  [0.7, 1, 0.5, 0, 0, 0, 0, 0, 0, 0, 0, 0, 0, 0, 0, 0, 0, 0, 0, 0, 0, 0, 0, 0, 0.3, 0.5, 0, 0, 0.5, 0, 0, 0.5, 0, 0.3],
  [0.9, 1.4, 0.8, 0, 0, 0, 0, 0, 0, 0, 0, 0, 0, 0, 0, 0, 0, 0, 0, 0, 0.3, 0, 0, 0.3, 0, 0, 0.5, 1, 0, 0.5, 0, 0, 0.5, 1],
  [1, 1.5, 1, 0, 0, 0, 0, 0, 0, 0, 0, 0, 0, 0.5, 0, 0, 0, 0, 0, 0, 0, 0, 0.5, 0, 0, 0.3, 0, 0, 1, 0, 0.5, 0, 0.3, 0],
  [0.8, 1.2, 0.6, 0, 0, 0, 0, 0, 0, 0, 0, 0, 0, 0, 0, 0, 0, 0, 0, 0, 0, 0, 0, 0.3, 0, 0, 0, 0.5, 0, 0.5, 0, 0.3, 0, 0.5],
  [1.1, 1.6, 1, 0, 0, 0, 0, 0, 0, 0, 0, 0, 0, 1.5, 0.5, 0, 0, 0, 0, 0, 0, 0.5, 7, 5.7, 2, 0.5, 0, 0, 0.5, 0, 0, 1, 0, 0],
  [1.4, 2.1, 1.5, 0, 0, 0, 0, 0, 0, 0, 0, 0, 0, 0.5, 0, 0, 0, 0, 0, 0, 0, 0, 0, 0.5, 6.2, 1, 0.5, 0, 0, 0.5, 0, 0, 1, 0.5],
  [0.9, 1.3, 0.8, 0, 0, 0, 0, 0, 0, 0, 0, 0, 0, 0, 0, 0, 0, 0, 0, 0, 0, 0, 0, 0, 0, 0.5, 1, 0.5, 7.4, 1, 0, 0.5, 0, 0],
  [0.8, 1.1, 0.6, 0, 0, 0, 0, 0, 0, 0, 0, 0, 0, 0, 0, 0, 0, 0, 0, 0, 0, 0, 0.3, 0, 0, 0, 0.5, 0, 0, 0.3, 0.5, 0, 0, 0.5],
  [1, 1.5, 0.9, 0, 0, 0, 0, 0, 0, 0, 0, 0, 0, 0.3, 0, 0, 0, 0, 0, 0, 0, 0, 0, 0, 0.5, 0, 0, 1.5, 0.5, 0, 0, 0.5, 1, 0.3],
  [1.2, 1.7, 1.1, 0, 0, 0, 0, 0, 0, 0, 0, 0, 0, 0.5, 0, 0, 0, 0, 0, 0, 0, 0, 0.5, 0, 0, 0.5, 0, 0, 0.5, 1, 0, 0, 0.5, 0],
  [0.7, 1, 0.6, 0, 0, 0, 0, 0, 0, 0, 0, 0, 0, 0, 0, 0, 0, 0, 0, 0, 0, 0.3, 0, 0, 0.5, 0, 0, 0.5, 0, 0, 1, 0.5, 0, 1],
  [1.3, 2.2, 1.6, 0, 0, 0, 0, 0, 0, 0, 0, 0, 0, 0.3, 0, 0, 0, 0, 0, 0, 0, 0, 0, 0.5, 0, 0, 0.5, 0, 0, 0.5, 0, 8, 6, 1],
  [0.9, 1.3, 0.7, 0, 0, 0, 0, 0, 0, 0, 0, 0, 0, 0, 0, 0, 0, 0, 0, 0, 0, 0, 0, 0.3, 0, 0.5, 0, 0, 0.5, 0, 1.5, 0.5, 0, 0.3],
  [1, 1.4, 0.9, 0, 0, 0, 0, 0, 0, 0, 0, 0, 0, 0, 0, 0, 0, 0, 0, 0, 0, 0.3, 0, 0, 0, 0.5, 0, 0.5, 0, 0, 0.5, 0, 1, 0.5],
  [0.8, 1.2, 0.7, 0, 0, 0, 0, 0, 0, 0, 0, 0, 0, 0, 0.3, 0, 0, 0, 0, 0, 0, 0, 0.5, 0, 0.3, 0, 0, 0.5, 0, 1, 0, 0.5, 0, 0],
  [1.1, 1.6, 1, 0, 0, 0, 0, 0, 0, 0, 0, 0, 0, 0.5, 0, 0, 0, 0, 0, 0, 0, 0, 0, 0.5, 0, 0, 0.3, 0, 0.5, 0, 0.5, 0, 0.5, 1],
  [1.2, 1.8, 1.3, 0, 0, 0, 0, 0, 0, 0, 0, 0, 0, 0.3, 0, 0, 0, 0, 0, 0, 0, 5.4, 0.5, 0, 0, 0.5, 0, 0, 1, 0.5, 0, 0.3, 0, 0.5],
];

const legendItems = [
  { label: 'Moyenne des scénarios', color: '#ff0000', x: 35, y: 637 },
  { label: 'Run de contrôle', color: '#0000ff', x: 226, y: 636.5 },
  { label: 'Run CEP/ECMWF', color: '#000000', x: 226, y: 646.5 },
];

const PLUS = 'path://M1,0H2V3H1ZM0,1H3V2H0Z';

function memberSeries(vals: number[], color: string, yAxisIndex: number) {
  return {
    type: 'line',
    yAxisIndex,
    data: memberHours.map((h, i) => [h, vals[i]]),
    lineStyle: { color, width: 1 },
    itemStyle: { color },
    symbol: PLUS,
    symbolSize: 4,
    showSymbol: true,
    silent: true,
    z: 2,
    emphasis: { disabled: true },
  };
}

function runSeries(vals: number[], color: string, width: number, yAxisIndex: number, z: number) {
  return {
    type: 'line',
    yAxisIndex,
    data: vals.map((v, i) => [runHours[i], v]),
    lineStyle: { color, width },
    itemStyle: { color },
    symbol: 'none',
    silent: true,
    z,
    emphasis: { disabled: true },
  };
}

function buildOption() {
  const gridLineData: any[] = [
    ...thinGrid.map((v) => ({ yAxis: v, lineStyle: { color: '#c0c0c0', width: 1, type: 'solid' } })),
    ...thickGrid.map((v) => ({ yAxis: v, lineStyle: { color: '#c0c0c0', width: 2, type: 'solid' } })),
    { yAxis: 0, lineStyle: { color: '#909090', width: 2, type: 'solid' } },
  ];
  const series: any[] = [
    {
      type: 'line',
      data: [],
      silent: true,
      z: 1,
      markLine: {
        silent: true,
        symbol: ['none', 'none'],
        label: { show: false },
        animation: false,
        data: gridLineData,
      },
    },
  ];
  t850Members.forEach((m, i) => series.push(memberSeries(m, memberColors[i], 0)));
  t500Members.forEach((m, i) => series.push(memberSeries(m, memberColors[i], 0)));
  precipMembers.forEach((m, i) => series.push(memberSeries(m, memberColors[i], 1)));
  series.push(runSeries(t850Control, '#0000ff', 2.5, 0, 3));
  series.push(runSeries(t500Control, '#0000ff', 2.5, 0, 3));
  series.push(runSeries(precipControl, '#0000ff', 2.5, 1, 3));
  series.push(runSeries(t850Main, '#000000', 3, 0, 4));
  series.push(runSeries(t500Main, '#000000', 3, 0, 4));
  series.push(runSeries(precipMain, '#000000', 3, 1, 4));
  series.push(runSeries(t850Mean, '#ff0000', 5, 0, 5));
  series.push(runSeries(t500Mean, '#ff0000', 5, 0, 5));
  series.push(runSeries(precipMean, '#ff0000', 5, 1, 5));

  const font10 = `10px ${MONO}`;
  const graphic: any[] = [];
  const addText = (text: string, x: number, y: number, font = font10) =>
    graphic.push({ type: 'text', x, y, z: 100, style: { text, font, fill: '#000', align: 'left', verticalAlign: 'middle' } });

  addText('Temp. 850hPa', 60, 134);
  addText('Temp. 500hPa', 60, 338);
  addText('Précipitations', 60, 521);
  addText('(°C)', 20, 607);
  addText('(mm)', 710, 607);

  legendItems.forEach((it) => {
    graphic.push({ type: 'rect', z: 100, shape: { x: it.x, y: it.y - 2, width: 31, height: 4 }, style: { fill: it.color } });
    addText(it.label, it.x + 40, it.y);
  });

  addText('50 Perts.', 369, 652);
  const cell = 10.97;
  memberColors.forEach((c, i) => {
    const col = i % 25;
    const row = Math.floor(i / 25);
    const x = 430 + col * cell;
    graphic.push({ type: 'rect', z: 100, shape: { x, y: 645 + row * 6, width: 10, height: 6 }, style: { fill: c } });
    graphic.push({
      type: 'text', z: 100, x: x + 5, y: row === 0 ? 640 : 662,
      style: { text: String(i + 1).padStart(2, '0'), font: `bold 8px ${MONO}`, fill: '#000', align: 'center', verticalAlign: 'middle' },
    });
  });

  graphic.push({ type: 'rect', z: 100, shape: { x: 20.5, y: 667.5, width: 420, height: 31 }, style: { fill: 'none', stroke: '#000', lineWidth: 1.5 } });
  addText('Diagramme ensembles ECMWF/CEP 0.4° sur 360h pour Paris', 30, 677, `bold 11.5px ${MONO}`);
  addText('Températures 850hPa et 500hPa (°C) , précipitations (mm)', 30, 692);
  addText('Ensemble ECMWF/CEP du 26/01/2024 - 00Z', 450, 675);
  addText('Copyright 2024 Meteociel.fr - ECMWF', 450, 692, `bold 11.5px ${MONO}`);

  return {
    animation: false,
    backgroundColor: '#ffffff',
    grid: { left: 50, right: 50, top: 0, bottom: 100.7, containLabel: false },
    xAxis: {
      type: 'value',
      min: 0,
      max: 360,
      interval: 24,
      axisLine: { show: true, onZero: false, lineStyle: { color: '#000', width: 2 } },
      axisTick: { show: false },
      splitLine: { show: true, lineStyle: { color: '#c0c0c0', width: 1 } },
      axisLabel: {
        rotate: 90,
        margin: 3,
        verticalAlign: 'top',
        fontFamily: MONO,
        fontSize: 10,
        color: '#000',
        formatter: (v: number) => dateLabels[Math.round(v / 24)] ?? '',
      },
    },
    yAxis: [
      {
        type: 'value',
        min: -52.77,
        max: 32.93,
        position: 'left',
        axisLine: { show: false },
        axisTick: { show: false },
        splitLine: { show: false },
        axisLabel: {
          customValues: leftTicks,
          align: 'left',
          margin: 30,
          padding: [4, 0, 0, 0],
          fontFamily: MONO,
          fontSize: 10,
          color: '#000',
        },
      },
      {
        type: 'value',
        min: -7.77,
        max: 77.93,
        position: 'right',
        axisLine: { show: false },
        axisTick: { show: false },
        splitLine: { show: false },
        axisLabel: {
          customValues: rightTicks,
          align: 'left',
          margin: 20,
          padding: [4, 0, 0, 0],
          fontFamily: MONO,
          fontSize: 10,
          color: '#000',
        },
      },
    ],
    series,
    graphic,
  };
}

export default function App() {
  const ref = useRef<HTMLDivElement>(null);
  useEffect(() => {
    if (!ref.current) return;
    const chart = echarts.init(ref.current, null, { renderer: 'svg' });
    chart.setOption(buildOption() as any);
    return () => chart.dispose();
  }, []);
  return <div ref={ref} style={{ position: 'fixed', left: 0, top: 0, width: 740, height: 700, background: '#fff' }} />;
}
